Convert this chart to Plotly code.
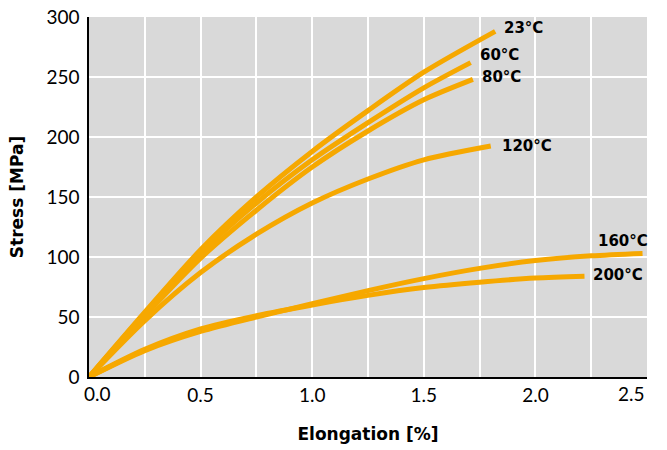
import plotly.graph_objects as go

# Data
labels = ["23°C", "60°C", "80°C", "120°C", "160°C", "200°C"]

x_23 = [0, 0.25, 0.5, 0.75, 1.0, 1.25, 1.5, 1.82]
y_23 = [0, 54, 106, 150, 188, 222, 254, 288]

x_60 = [0, 0.25, 0.5, 0.75, 1.0, 1.25, 1.5, 1.71]
y_60 = [0, 53, 103, 145, 181, 212, 241, 262]

x_80 = [0, 0.25, 0.5, 0.75, 1.0, 1.25, 1.5, 1.72]
y_80 = [0, 51, 99, 139, 175, 205, 231, 248]

x_120 = [0, 0.25, 0.5, 0.75, 1.0, 1.25, 1.5, 1.8]
y_120 = [0, 47, 87, 119, 145, 165, 181, 192.5]

x_160 = [0, 0.25, 0.5, 0.75, 1.0, 1.25, 1.5, 1.75, 2.0, 2.25, 2.48]
y_160 = [0, 22, 38, 50, 61, 72, 82, 90.5, 97, 101, 103]

x_200 = [0, 0.25, 0.5, 0.75, 1.0, 1.25, 1.5, 1.75, 2.0, 2.22]
y_200 = [0, 23, 40, 51, 60, 68, 74.5, 79, 82.5, 84]

label_x = [1.85, 1.745, 1.754, 1.84, 2.27, 2.25]
label_y = [291, 268, 250, 192.5, 113, 85]

x_tickvals = [0.5, 1.0, 1.5, 2.0]
x_ticktext = ["0.5", "1.0", "1.5", "2.0"]
x_end_ticks = [(0.0, "0.0", 8), (2.5, "2.5", -16)]

series = [(x_23, y_23), (x_60, y_60), (x_80, y_80),
          (x_120, y_120), (x_160, y_160), (x_200, y_200)]

color = "#F6A800"
tick_font = "Lato, 'Open Sans', sans-serif"
bold_font = "'DejaVu Sans', sans-serif"

fig = go.Figure()
for (xs, ys), name in zip(series, labels):
    fig.add_trace(go.Scatter(x=xs, y=ys, mode="lines", name=name,
                             line=dict(color=color, width=5, shape="spline", smoothing=0.8),
                             cliponaxis=False, showlegend=False, hoverinfo="skip"))

for name, lx, ly in zip(labels, label_x, label_y):
    fig.add_annotation(x=lx, y=ly, text="<b>" + name + "</b>", showarrow=False,
                       xanchor="left", yanchor="middle",
                       font=dict(size=15, color="black", family=bold_font))

for tx, tt, shift in x_end_ticks:
    fig.add_annotation(x=tx, y=0, xref="x", yref="paper", text=tt, showarrow=False,
                       xanchor="center", yanchor="top", xshift=shift, yshift=-3,
                       font=dict(size=19, color="black", family=tick_font))

fig.update_layout(
    width=667, height=450,
    margin=dict(l=89, r=20, t=17, b=73),
    paper_bgcolor="white", plot_bgcolor="#D9D9D9",
    font=dict(family=tick_font, color="black", size=19),
    hovermode=False,
)
fig.update_xaxes(range=[0, 2.5], tickvals=x_tickvals, ticktext=x_ticktext,
                 showgrid=True, gridcolor="white", gridwidth=2,
                 minor=dict(dtick=0.25, tick0=0, showgrid=True, gridcolor="white", gridwidth=2),
                 showline=True, linecolor="black", linewidth=1.5,
                 zeroline=False, ticks="", automargin=False, ticklabeloverflow="allow",
                 title=dict(text="<b>Elongation [%]</b>",
                            font=dict(size=17, family=bold_font), standoff=24))
fig.update_yaxes(range=[0, 300], dtick=50,
                 showgrid=True, gridcolor="white", gridwidth=2,
                 showline=True, linecolor="black", linewidth=1.5,
                 zeroline=False, ticks="", automargin=False, ticklabelstandoff=4,
                 ticklabeloverflow="allow",
                 title=dict(text="<b>Stress [MPa]</b>",
                            font=dict(size=17, family=bold_font), standoff=18))

# remove the default 8px page margin so the figure fills the window exactly
fig.write_html("out.html", config={"displayModeBar": False},
               post_script="document.body.style.margin='0';document.body.style.overflow='hidden';")
